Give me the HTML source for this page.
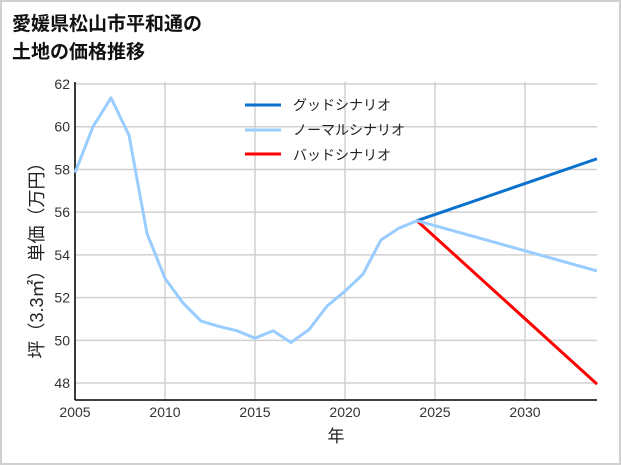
<!DOCTYPE html>
<html><head><meta charset="utf-8"><style>
body{margin:0;background:#fff;}
svg{display:block;font-family:"Liberation Sans","Noto Sans CJK JP",sans-serif;}
</style></head><body>
<svg id="chart" width="621" height="465" viewBox="0 0 621 465">
<rect x="1" y="1" width="619" height="463" fill="#fff" stroke="#d0d0d0" stroke-width="2"/>
<text x="12" y="30" font-size="19" font-weight="bold" fill="#111">愛媛県松山市平和通の</text>
<text x="12" y="58" font-size="19" font-weight="bold" fill="#111">土地の価格推移</text>
<g id="grid"></g>
<g id="axes"></g>
<g id="series"></g>
<text transform="translate(43,256) rotate(-90)" text-anchor="middle" font-size="18" fill="#222">坪（3.3㎡）単価（万円）</text>
<text x="336" y="442" text-anchor="middle" font-size="17" fill="#222">年</text>
<g>
<line x1="245" y1="105" x2="281" y2="105" stroke="#0a72cc" stroke-width="3"/>
<text x="293" y="110" font-size="14" fill="#222">グッドシナリオ</text>
<line x1="245" y1="130" x2="281" y2="130" stroke="#99ccff" stroke-width="3"/>
<text x="293" y="135" font-size="14" fill="#222">ノーマルシナリオ</text>
<line x1="245" y1="154" x2="281" y2="154" stroke="#ff0000" stroke-width="3"/>
<text x="293" y="160" font-size="14" fill="#222">バッドシナリオ</text>
</g>
</svg>
<script>
const years = [2005,2006,2007,2008,2009,2010,2011,2012,2013,2014,2015,2016,2017,2018,2019,2020,2021,2022,2023,2024];
const historyValues = [57.85,60.0,61.35,59.6,55.0,52.9,51.75,50.9,50.65,50.45,50.1,50.45,49.9,50.5,51.6,52.3,53.1,54.7,55.25,55.6];
const scenarioYears = [2024,2034];
const goodValues = [55.6,58.5];
const normalValues = [55.6,53.25];
const badValues = [55.6,47.95];
const xTicks = [2005,2010,2015,2020,2025,2030];
const yTicks = [48,50,52,54,56,58,60,62];

const NS="http://www.w3.org/2000/svg";
const X0=75,X1=597,Y0=400,YT=82;
const xs=y=>X0+(y-2005)*(X1-X0)/29;
const ys=v=>84+(62-v)*21.36;
function mk(tag,attrs,parent){const e=document.createElementNS(NS,tag);for(const k in attrs)e.setAttribute(k,attrs[k]);parent.appendChild(e);return e;}
const grid=document.getElementById('grid'),axes=document.getElementById('axes'),series=document.getElementById('series');
yTicks.forEach(t=>{
 const l=mk('line',{x1:X0,x2:X1,y1:ys(t),y2:ys(t),stroke:'#d0d0d0','stroke-width':1.5},grid);
 
 
 const tx=mk('text',{x:X0-5,y:ys(t)+5,'text-anchor':'end','font-size':14,fill:'#333'},axes);
 tx.textContent=t;
 
 
});
xTicks.forEach(t=>{
 const l=mk('line',{x1:xs(t),x2:xs(t),y1:YT,y2:Y0,stroke:'#d0d0d0','stroke-width':1.5},grid);
 
 
 const tx=mk('text',{x:xs(t),y:Y0+17,'text-anchor':'middle','font-size':14,fill:'#333'},axes);
 tx.textContent=t;
 
 
});
const ya=mk('line',{x1:X0,x2:X0,y1:YT,y2:Y0,stroke:'#000','stroke-width':1.5},axes);


const xa=mk('line',{x1:X0,x2:X1,y1:Y0,y2:Y0,stroke:'#000','stroke-width':1.5},axes);


function line(xv,yv,color,name){
 const p=mk('polyline',{points:xv.map((x,i)=>xs(x)+','+ys(yv[i])).join(' '),fill:'none',stroke:color,'stroke-width':3,'stroke-linejoin':'round'},series);
 
 
}
line(scenarioYears,goodValues,'#0a72cc','good-scenario-line');
line(scenarioYears,badValues,'#ff0000','bad-scenario-line');
line(scenarioYears,normalValues,'#99ccff','normal-scenario-line');
line(years,historyValues,'#99ccff','history-line');
</script>
</body></html>
